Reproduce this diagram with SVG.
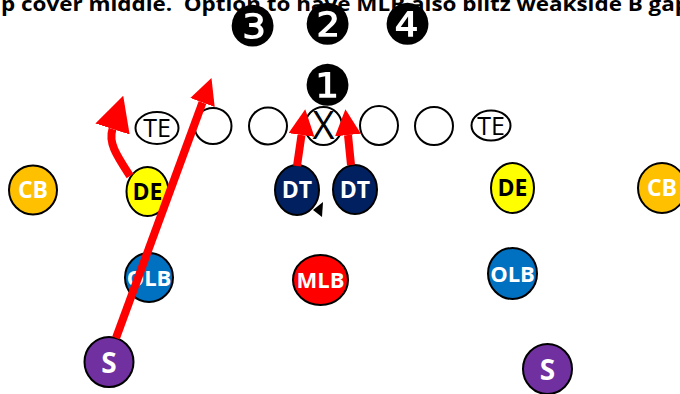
<svg xmlns="http://www.w3.org/2000/svg" width="680" height="394" viewBox="0 0 680 394">
<style>
  .hd{font-family:"Open Sans","Liberation Sans",sans-serif;font-weight:bold;font-size:20px;fill:#000}
  .p{stroke:#000;stroke-width:2}
  .lbl{font-family:"Open Sans","Liberation Sans",sans-serif;font-weight:bold;font-size:23px;text-anchor:middle;fill:#fff}
  .sm{font-size:22px}
  .dark{fill:#000}
  .big{font-size:28px}
  .off{fill:#fff;stroke:#000;stroke-width:2}
  .te{font-family:"Open Sans","Liberation Sans",sans-serif;font-size:25px;text-anchor:middle;fill:#000}
  .x{font-family:"Open Sans","Liberation Sans",sans-serif;font-size:38px;text-anchor:middle;fill:#000}
  .num{font-family:"DejaVu Sans",sans-serif;font-size:56px;text-anchor:middle;fill:#000}
  .rt{fill:none;stroke:#FF0000;stroke-width:8}
  .cb{fill:#FFC000}.de{fill:#FFFF00}.dt{fill:#002060}.olb{fill:#0070C0}.mlb{fill:#FF0000}.s{fill:#7030A0}
</style>
<defs>
  <marker id="ah" markerUnits="userSpaceOnUse" viewBox="0 0 26 26" markerWidth="26" markerHeight="26" refX="0" refY="13" orient="auto">
    <path d="M0,0 L26,13 L0,26 z" fill="#FF0000"/>
  </marker>
  <marker id="ahL" markerUnits="userSpaceOnUse" viewBox="0 0 35 36" markerWidth="35" markerHeight="36" refX="0" refY="18" orient="auto">
    <path d="M0,0 L35,18 L0,36 z" fill="#FF0000"/>
  </marker>
</defs>
<rect width="680" height="394" fill="#fff"/>
<text class="hd" x="1" y="11" xml:space="preserve" textLength="688" lengthAdjust="spacingAndGlyphs">p cover middle.  Option to have MLB also blitz weakside B gap</text>

<g id="gap-labels">
  <text class="num" x="252.5" y="46">❸</text>
  <text class="num" x="327.5" y="44">❷</text>
  <text class="num" x="407.5" y="44">❹</text>
  <text class="num" x="327.5" y="104.5">❶</text>
</g>

<g id="offense">
  <g id="te-left"><ellipse class="off" cx="157" cy="128" rx="21.5" ry="16"/><text class="te" x="157" y="137">TE</text></g>
  <g id="ol-1"><ellipse class="off" cx="213" cy="126" rx="18.5" ry="18"/></g>
  <g id="ol-2"><ellipse class="off" cx="268" cy="126" rx="19" ry="18.5"/></g>
  <g id="center"><ellipse class="off" cx="323.5" cy="126" rx="18.5" ry="19"/><text class="x" x="323.5" y="139">X</text></g>
  <g id="ol-4"><ellipse class="off" cx="379" cy="125.5" rx="19" ry="19.5"/></g>
  <g id="ol-5"><ellipse class="off" cx="434" cy="126" rx="19" ry="19"/></g>
  <g id="te-right"><ellipse class="off" cx="491" cy="125.5" rx="19.5" ry="15"/><text class="te" x="491" y="134.5">TE</text></g>
</g>

<g id="defense">
  <g id="cb-left"><ellipse class="p cb" cx="33" cy="190" rx="24" ry="24.5"/><text class="lbl" x="33" y="198">CB</text></g>
  <g id="de-left"><ellipse class="p de" cx="147.5" cy="191.5" rx="21" ry="24.5"/><text class="lbl dark" x="147.5" y="199.5">DE</text></g>
  <g id="dt-1"><ellipse class="p dt" cx="297" cy="190" rx="22" ry="25"/><text class="lbl" x="297" y="198">DT</text></g>
  <g id="dt-2"><ellipse class="p dt" cx="355" cy="189.5" rx="22" ry="24.5"/><text class="lbl" x="355" y="197.5">DT</text></g>
  <g id="de-right"><ellipse class="p de" cx="512.5" cy="188" rx="21.5" ry="25"/><text class="lbl dark" x="512.5" y="196">DE</text></g>
  <g id="cb-right"><ellipse class="p cb" cx="662" cy="188" rx="24" ry="25"/><text class="lbl" x="662" y="196">CB</text></g>
  <g id="olb-left"><ellipse class="p olb" cx="149" cy="277.5" rx="24" ry="24.5"/><text class="lbl sm" x="149" y="285.5">OLB</text></g>
  <g id="mlb"><ellipse class="p mlb" cx="320.5" cy="280" rx="27.5" ry="25"/><text class="lbl sm" x="320.5" y="288">MLB</text></g>
  <g id="olb-right"><ellipse class="p olb" cx="512.5" cy="273.5" rx="24.5" ry="25.5"/><text class="lbl sm" x="512.5" y="281.5">OLB</text></g>
  <g id="s-left"><ellipse class="p s" cx="109" cy="362" rx="24.5" ry="25"/><text class="lbl big" x="109" y="372.5">S</text></g>
  <g id="s-right"><ellipse class="p s" cx="547.5" cy="369" rx="24.5" ry="25"/><text class="lbl big" x="547.5" y="379.5">S</text></g>
</g>

<g id="connectors">
  <path class="rt" d="M130,176 C117,156 108,143 112.5,129" marker-end="url(#ahL)"/>
  <path class="rt" d="M116,338 L202.5,102.5" marker-end="url(#ah)"/>
  <path class="rt" d="M297,166 L301.5,135" marker-end="url(#ah)"/>
  <path class="rt" d="M351,165 L348,135" marker-end="url(#ah)"/>
  <polygon points="313,210 323,202 322,217" fill="#000"/>
</g>
</svg>
